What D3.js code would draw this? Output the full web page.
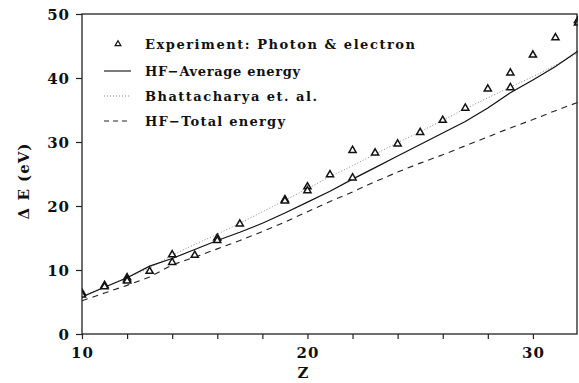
<!DOCTYPE html>
<html>
<head>
<meta charset="utf-8">
<script src="https://cdn.jsdelivr.net/npm/d3@7"></script>
<style>
  body { margin: 0; background: #fff; }
  svg text { font-family: "DejaVu Serif", serif; font-weight: bold; fill: #111; }
</style>
</head>
<body>
<div id="chart"></div>
<script>
// Z grid used by the three calculated curves
var zValues = [10, 11, 12, 13, 14, 15, 16, 17, 18, 19, 20, 21, 22, 23, 24, 25, 26, 27, 28, 29, 30, 31, 32];

// HF - average energy (solid)
var hfAverage = [5.8, 7.3, 8.8, 10.6, 11.8, 13.2, 14.6, 15.9, 17.3, 18.9, 20.6, 22.3, 24.2, 26.0, 27.8, 29.6, 31.4, 33.2, 35.3, 37.7, 39.7, 41.8, 44.2];
// Bhattacharya et. al. (dotted)
var bhattacharya = [5.9, 7.4, 8.8, 10.3, 12.3, 14.0, 15.6, 17.3, 19.1, 20.9, 22.7, 24.6, 26.3, 28.1, 29.9, 31.6, 33.4, 35.2, 36.9, 38.6, 40.2, 42.0, 43.9];
// HF - total energy (dashed)
var hfTotal = [5.2, 6.4, 7.6, 8.9, 10.8, 12.0, 13.3, 14.6, 16.0, 17.5, 19.1, 20.7, 22.2, 23.8, 25.3, 26.7, 28.0, 29.4, 30.8, 32.2, 33.5, 34.9, 36.2];

// experiment: photon & electron (triangles)
var expZ = [10, 10, 11, 11, 12, 12, 12, 13, 14, 14, 15, 16, 16, 17, 19, 19, 20, 20, 21, 22, 22, 23, 24, 25, 26, 27, 28, 29, 29, 30, 31, 32, 32];
var expE = [6.4, 6.1, 7.6, 7.4, 8.8, 8.5, 8.3, 9.8, 12.4, 11.2, 12.3, 15.0, 14.6, 17.2, 21.0, 20.8, 23.0, 22.4, 24.9, 28.7, 24.4, 28.3, 29.7, 31.5, 33.4, 35.3, 38.3, 40.8, 38.5, 43.6, 46.3, 49.0, 48.6];

var xTicks = [10, 12, 14, 16, 18, 20, 22, 24, 26, 28, 30];
var xLabels = [10, 20, 30];
var yTicks = [0, 10, 20, 30, 40, 50];

var legendText = ["Experiment: Photon & electron", "HF\u2212Average energy", "Bhattacharya et. al.", "HF\u2212Total energy"];

var width = 579;
var height = 383;
var margin = { left: 82, right: 1, top: 14, bottom: 49 };

var svg = d3.select("#chart")
	.append("svg")
	.attr("width", width)
	.attr("height", height);

var x = d3.scaleLinear()
	.domain([10, 32])
	.range([margin.left, width - margin.right]);

var y = d3.scaleLinear()
	.domain([0, 50])
	.range([height - margin.bottom, margin.top]);

// clip so the triangle on the right border is cut like in the print
svg.append("clipPath")
	.attr("id", "plotClip")
	.append("rect")
	.attr("x", margin.left)
	.attr("y", margin.top - 6)
	.attr("width", width - margin.left - margin.right)
	.attr("height", height - margin.top - margin.bottom + 6);

var plot = svg.append("g").attr("clip-path", "url(#plotClip)");

function curve(values) {
	return d3.line()
		.x(function (d, i) { return x(zValues[i]); })
		.y(function (d) { return y(d); })(values);
}

plot.append("path")
	.attr("d", curve(bhattacharya))
	.attr("fill", "none")
	.attr("stroke", "#888")
	.attr("stroke-width", 1)
	.attr("stroke-dasharray", "1,2");

plot.append("path")
	.attr("d", curve(hfTotal))
	.attr("fill", "none")
	.attr("stroke", "#222")
	.attr("stroke-width", 1.1)
	.attr("stroke-dasharray", "6,5");

plot.append("path")
	.attr("d", curve(hfAverage))
	.attr("fill", "none")
	.attr("stroke", "#111")
	.attr("stroke-width", 1.2);

var tri = d3.symbol().type(d3.symbolTriangle).size(22);

plot.selectAll(".exp")
	.data(expZ)
	.enter()
	.append("path")
	.attr("class", "exp")
	.attr("d", tri)
	.attr("transform", function (d, i) { return "translate(" + x(d) + "," + y(expE[i]) + ")"; })
	.attr("fill", "#fff")
	.attr("stroke", "#111")
	.attr("stroke-width", 1.5);

// frame
svg.append("rect")
	.attr("x", x(10))
	.attr("y", y(50))
	.attr("width", x(32) - x(10) - 1)
	.attr("height", y(0) - y(50))
	.attr("fill", "none")
	.attr("stroke", "#222")
	.attr("stroke-width", 1.3);

// y axis
var yAxis = svg.append("g")
	.attr("transform", "translate(" + x(10) + ",0)")
	.call(d3.axisLeft(y).tickValues(yTicks).tickSize(6).tickPadding(6));
yAxis.select(".domain").remove();
yAxis.selectAll("line").attr("stroke", "#222").attr("stroke-width", 1.2);
yAxis.selectAll("text")
	.style("font-size", "15px")
	.attr("fill", "#111")
	.attr("dy", "0.35em")
	.attr("letter-spacing", "1px");

// x axis
var xAxis = svg.append("g")
	.attr("transform", "translate(0," + y(0) + ")")
	.call(d3.axisBottom(x).tickValues(xTicks).tickSize(5).tickPadding(8)
		.tickFormat(function (d) { return xLabels.indexOf(d) >= 0 ? d : ""; }));
xAxis.select(".domain").remove();
xAxis.selectAll("line").attr("stroke", "#222").attr("stroke-width", 1.2);
xAxis.selectAll("text")
	.style("font-size", "15px")
	.attr("fill", "#111")
	.attr("letter-spacing", "1px");

// axis titles
svg.append("text")
	.attr("x", x(19.8))
	.attr("y", 378)
	.attr("text-anchor", "middle")
	.style("font-size", "15px")
	.text("Z");

svg.append("text")
	.attr("transform", "translate(29,181) rotate(-90)")
	.attr("text-anchor", "middle")
	.style("font-size", "15px")
	.attr("letter-spacing", "1px")
	.text("\u0394 E (eV)");

// legend
var legendY = [44, 71, 96, 121];
var legendW = [270, 155, 172, 140];

var legend = svg.selectAll(".legend")
	.data(legendText)
	.enter()
	.append("g")
	.attr("class", "legend")
	.attr("transform", function (d, i) { return "translate(0," + legendY[i] + ")"; });

legend.append("text")
	.attr("x", 145)
	.attr("y", 4.5)
	.style("font-size", "13px")
	.attr("textLength", function (d, i) { return legendW[i]; })
	.attr("lengthAdjust", "spacing")
	.text(function (d) { return d; });

legend.filter(function (d, i) { return i === 0; })
	.append("path")
	.attr("d", d3.symbol().type(d3.symbolTriangle).size(14))
	.attr("transform", "translate(118,0)")
	.attr("fill", "#fff")
	.attr("stroke", "#111")
	.attr("stroke-width", 1.2);

var legendStyles = [null, { c: "#111", d: null }, { c: "#888", d: "1,2" }, { c: "#222", d: "5,4" }];

legend.filter(function (d, i) { return i > 0; })
	.append("line")
	.attr("x1", 104)
	.attr("x2", 131)
	.attr("y1", 0)
	.attr("y2", 0)
	.attr("stroke", function (d) { return legendStyles[legendText.indexOf(d)].c; })
	.attr("stroke-width", 1.1)
	.attr("stroke-dasharray", function (d) { return legendStyles[legendText.indexOf(d)].d; });
</script>
</body>
</html>
